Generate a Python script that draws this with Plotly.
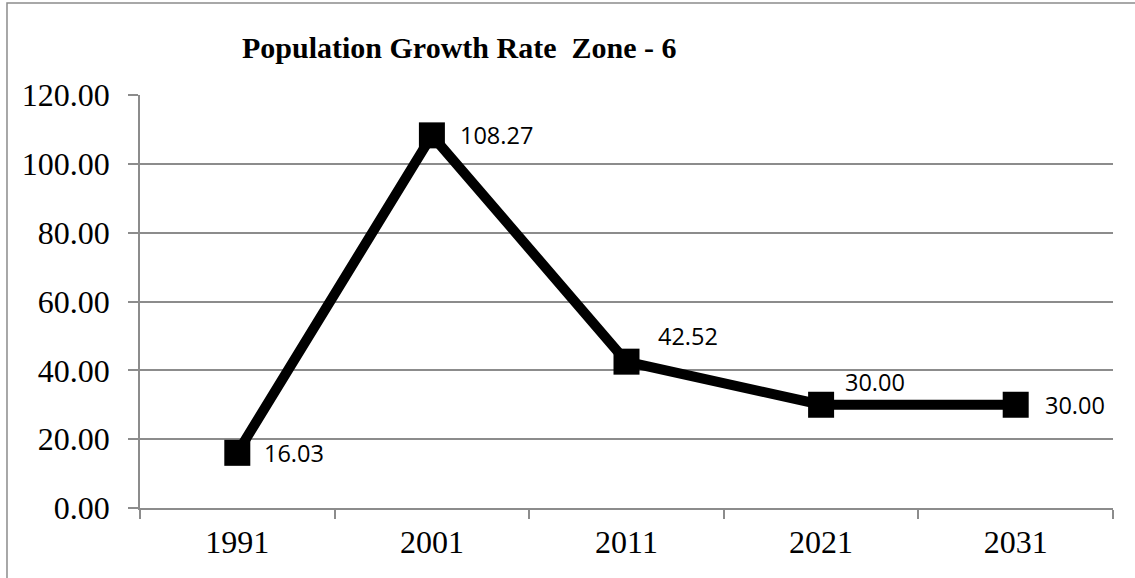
import plotly.graph_objects as go

# Population growth rate by census decade
years = ["1991", "2001", "2011", "2021", "2031"]
growth_rate = [16.03, 108.27, 42.52, 30.00, 30.00]

# per-point label offsets (pixels) for the value labels
label_dx = [25, 26, 29, 22, 27]
label_dy = [0, 0, 26, 23, 0]

y_ticks = [0, 20, 40, 60, 80, 100, 120]

GRID = "#8c8c8c"
SERIF = "Liberation Serif, Times New Roman, serif"
SANS = "Open Sans, Liberation Sans, sans-serif"

fig = go.Figure()

fig.add_trace(go.Scatter(
    x=years,
    y=growth_rate,
    mode="lines+markers",
    line=dict(color="black", width=10),
    marker=dict(symbol="square", size=26, color="black"),
    showlegend=False,
    hoverinfo="x+y",
))

# value labels (category axis positions are given by index)
for i, (v, dx, dy) in enumerate(zip(growth_rate, label_dx, label_dy)):
    fig.add_annotation(
        x=i, y=v, text=f"{v:.2f}", showarrow=False,
        xanchor="left", yanchor="middle", xshift=dx, yshift=dy,
        font=dict(family=SANS, size=23.5, color="black"),
    )

# chart title
fig.add_annotation(
    xref="paper", yref="paper", x=0.1028, y=1.114,
    text="<b>Population Growth Rate\u00a0 Zone - 6</b>",
    showarrow=False, xanchor="left", yanchor="middle",
    font=dict(family=SERIF, size=30, color="black"),
)

# outer chart frame
fig.add_shape(
    type="rect", xref="paper", yref="paper",
    x0=-0.1367, x1=1.2, y0=-0.3, y1=1.2228,
    line=dict(color=GRID, width=1.5), layer="below",
)

fig.update_layout(
    width=1135, height=578,
    margin=dict(l=140, r=22, t=95, b=70),
    paper_bgcolor="white", plot_bgcolor="white",
    font=dict(family=SERIF, color="black"),
)

fig.update_xaxes(
    type="category", range=[-0.5, 4.5],
    showgrid=False, showline=True, linecolor=GRID, linewidth=1.5,
    ticks="outside", tickson="boundaries", ticklen=9, tickcolor=GRID, tickwidth=1.5,
    tickfont=dict(family=SERIF, size=32, color="black"),
    ticklabelstandoff=5,
)

fig.update_yaxes(
    range=[0, 120], tickvals=y_ticks,
    ticktext=[f"{t:.2f}" for t in y_ticks],
    showgrid=True, gridcolor=GRID, gridwidth=1.5,
    showline=True, linecolor=GRID, linewidth=1.5,
    ticks="outside", ticklen=10, tickcolor=GRID, tickwidth=1.5,
    tickfont=dict(family=SERIF, size=32, color="black"),
    ticklabelstandoff=12, zeroline=False,
)

fig.write_html("out.html")
